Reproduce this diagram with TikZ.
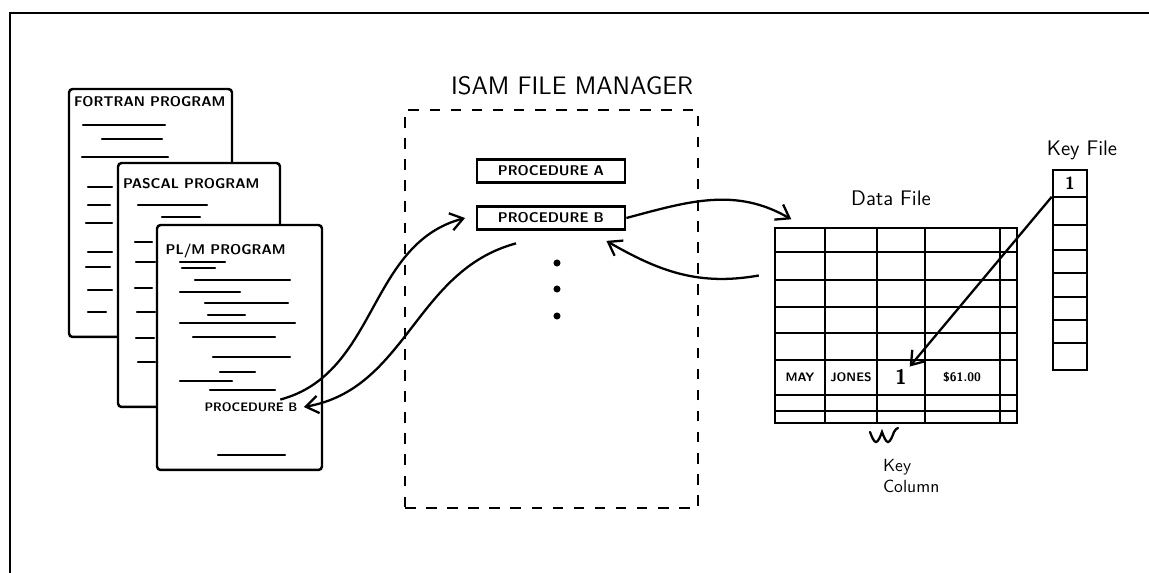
\documentclass[tikz,border=0pt]{standalone}
\usetikzlibrary{positioning,arrows.meta,calc}
\tikzset{
  page/.style={draw,fill=white,rounded corners=2pt,line width=1.4pt},
  pagetitle/.style={font=\sffamily\bfseries\footnotesize,anchor=north west,inner sep=1pt},
  scrib/.style={line width=1.2pt,line cap=round},
  procbox/.style={draw,line width=1.6pt,minimum width=2.96cm,minimum height=0.46cm,inner sep=1pt,font=\sffamily\bfseries\footnotesize},
  hand/.style={font=\sffamily\large},
  cell/.style={font=\sffamily\bfseries\scriptsize,inner sep=1pt},
  link/.style={->,>={Straight Barb[length=2.5mm,width=3.5mm]},line width=1.3pt},
}

\begin{document}
\begin{tikzpicture}[x=0.02cm,y=0.02cm,line width=1.3pt]
\useasboundingbox (0,0) rectangle (1149,-573);
\draw[line width=1.6pt] (10,-573) -- (10,-13) -- (1149,-13);

\node[page,minimum width=3.26cm,minimum height=4.96cm] (fortran) at (150.5,-213) {};
\node[pagetitle] at ([xshift=2pt,yshift=-3pt]fortran.north west) {FORTRAN PROGRAM};
\foreach \a/\b/\y in {83/165/125,102/162/139,82/168/157,88/112/187,88/110/205,86/112/223,
  88/112/252,86/110/267,88/112/290,88/106/312}
  \draw[scrib] (\a,-\y) -- (\b,-\y);

\node[page,minimum width=3.24cm,minimum height=4.88cm] (pascal) at (199,-285) {};
\node[pagetitle] at ([xshift=2pt,yshift=-8pt]pascal.north west) {PASCAL PROGRAM};
\foreach \a/\b/\y in {138/207/205,162/200/217,135/152/242,136/155/262,135/152/288,
  137/155/312,136/154/338,138/155/362}
  \draw[scrib] (\a,-\y) -- (\b,-\y);

\node[page,minimum width=3.3cm,minimum height=4.9cm] (plm) at (239.5,-347.5) {};
\node[pagetitle] at ([xshift=4pt,yshift=-10pt]plm.north west) {PL/M PROGRAM};
\foreach \a/\b/\y in {180/225/262,182/215/268,195/290/280,180/240/292,205/288/303,
  208/245/315,180/295/323,193/275/337,213/290/357,220/255/372,180/232/381,210/275/390,218/285/455}
  \draw[scrib] (\a,-\y) -- (\b,-\y);
\node[cell] (plmproc) at (251,-407) {PROCEDURE B};

\node[draw,dash pattern=on 6pt off 6pt,line width=1.4pt,minimum width=5.86cm,minimum height=7.96cm] (isam) at (551.5,-309) {};
\node[font=\sffamily\Large] (isamtitle) at (572,-86) {ISAM FILE MANAGER};
\node[procbox] (proca) at (551,-171) {PROCEDURE A};
\node[procbox] (procb) at (551,-218) {PROCEDURE B};
\foreach \y in {263,289,316} \fill (557,-\y) circle (2pt);

\node[draw,line width=1.4pt,minimum width=4.84cm,minimum height=3.9cm] (data) at (896,-325.5) {};
\foreach \x in {825,877,925,1000} \draw (\x,-228) -- (\x,-423);
\foreach \y in {252,280,307,333,360,395,411} \draw (775,-\y) -- (1017,-\y);
\node[hand] (datatitle) at (891,-198) {Data File};
\node[cell] (may) at (800,-377) {MAY};
\node[cell] (jones) at (851,-377) {JONES};
\node[cell,font=\sffamily\bfseries\large] (keyval) at (901,-377) {1};
\node[cell] (amount) at (962,-377) {\$61.00};

\node[draw,line width=1.4pt,minimum width=0.68cm,minimum height=4cm] (keyfile) at (1070,-270) {};
\foreach \y in {197,225,250,273,297,320,343} \draw (1053,-\y) -- (1087,-\y);
\node[cell,font=\sffamily\bfseries\normalsize] (keyone) at (1070,-183) {1};
\node[hand] (keytitle) at (1082,-150) {Key File};

\draw[line cap=round] (870,-432) sin (876,-442) cos (882,-432) sin (888,-442) cos (894,-432) sin (898,-428);
\node[font=\sffamily,align=left,anchor=north west] (keycol) at (876,-452) {Key\\Column};

\draw[link] ([xshift=-0.4cm]plmproc.north east) to[out=15,in=195] ([xshift=-6pt]procb.west);
\draw[link] ([xshift=-0.7cm,yshift=-0.25cm]procb.south) to[out=195,in=10] ([xshift=2pt]plmproc.east);
\draw[link] (procb.east) to[out=15,in=150] ([xshift=0.35cm,yshift=0.15cm]data.north west);
\draw[link] ([xshift=-0.3cm,yshift=1cm]data.west) to[out=190,in=-30] ([xshift=-0.4cm,yshift=-0.2cm]procb.south east);
\draw[link] ([yshift=-0.56cm]keyfile.north west) -- (keyval.north east);
\end{tikzpicture}
\end{document}
